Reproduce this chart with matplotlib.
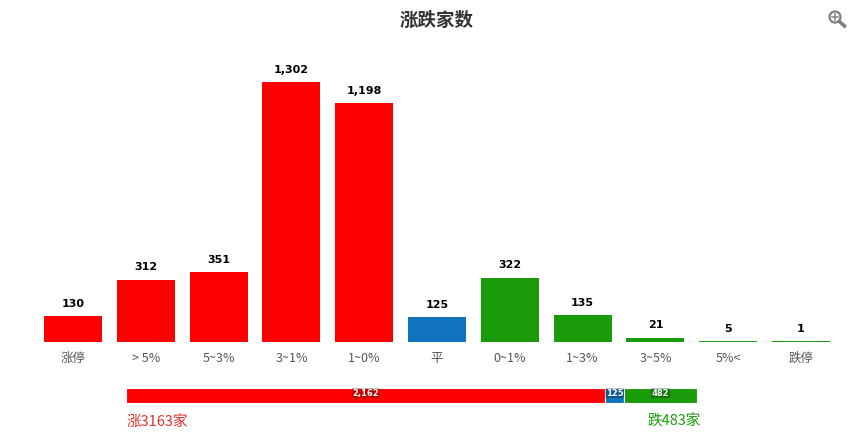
import matplotlib
matplotlib.use('Agg')
import matplotlib.pyplot as plt
import numpy as np
from matplotlib.patches import Circle
from matplotlib.lines import Line2D

categories = ['涨停', '> 5%', '5~3%', '3~1%', '1~0%', '平', '0~1%', '1~3%', '3~5%', '5%<', '跌停']
values = [130, 312, 351, 1302, 1198, 125, 322, 135, 21, 5, 1]
value_labels = ['130', '312', '351', '1,302', '1,198', '125', '322', '135', '21', '5', '1']
RED, BLUE, GREEN = '#ff0000', '#1173bd', '#1a9c0a'
colors = [RED] * 5 + [BLUE] + [GREEN] * 5
summary_values = [3163, 125, 483]
summary_labels = ['2,162', '125', '482']
summary_colors = [RED, BLUE, GREEN]
up_text = '涨3163家'
down_text = '跌483家'
title = '涨跌家数'
min_bar_value = 5

W, H = 849, 442
CJK = ['Noto Sans CJK SC', 'DejaVu Sans']
plt.rcParams['font.family'] = CJK
fig = plt.figure(figsize=(W / 100, H / 100), dpi=100, facecolor='white')

def axes_px(x0, y_top, x1, y_bottom):
    return fig.add_axes([x0 / W, 1 - y_bottom / H, (x1 - x0) / W, (y_bottom - y_top) / H])

# main bars
ax = axes_px(36.6, 42, 837.4, 342)
ax.set_xlim(-0.5, 10.5)
ax.set_ylim(0, 1505)
heights = np.maximum(values, min_bar_value)
ax.bar(range(len(values)), heights, width=0.797, color=colors, linewidth=0)
for i, (h, lab) in enumerate(zip(heights, value_labels)):
    ax.annotate(lab, (i, h), xytext=(0, 7.5), textcoords='offset pixels', ha='center', va='bottom',
                fontsize=8, fontweight='bold', family='DejaVu Sans', color='black')
ax.set_xticks(range(len(categories)))
ax.set_xticklabels(categories, fontsize=9, color='#555555')
ax.tick_params(axis='x', length=0, pad=7)
ax.set_yticks([])
for s in ax.spines.values():
    s.set_visible(False)
ax.patch.set_alpha(0)

# summary bar
ax2 = axes_px(126, 388, 697, 403.4)
ax2.set_xlim(0, sum(summary_values))
ax2.set_ylim(0, 1)
left = 0
for v, c, lab in zip(summary_values, summary_colors, summary_labels):
    ax2.barh(0.5, v, left=left, height=1, color=c, edgecolor='white', linewidth=0.8)
    ax2.text(left + v / 2, 0.65, lab, ha='center', va='center', color='white',
             fontsize=6, fontweight='bold', family='DejaVu Sans',
             bbox=dict(boxstyle='square,pad=0.05', fc=(0, 0, 0, 0.25), ec='none'))
    left += v
ax2.axis('off')

# title, footers
fig.text(437 / W, 1 - 20 / H, title, ha='center', va='center', fontsize=13.3, fontweight='bold', color='#333333')
fig.text(127 / W, 1 - 422 / H, up_text, ha='left', va='center', fontsize=10.5, color='#e03030')
fig.text(648 / W, 1 - 422 / H, down_text, ha='left', va='center', fontsize=10.5, color='#1a9c0a')

# zoom icon
ic = '#808080'
fig.add_artist(Circle((835, H - 17), 5.5, transform=None, fill=False, ec=ic, lw=1.6))
fig.add_artist(Line2D([839.5, 844.5], [H - 21.5, H - 26], transform=None, color=ic, lw=2.6))
fig.add_artist(Line2D([832, 838], [H - 17, H - 17], transform=None, color=ic, lw=1.1))
fig.add_artist(Line2D([835, 835], [H - 14, H - 20], transform=None, color=ic, lw=1.1))

fig.savefig('out.png', dpi=100, facecolor='white')
